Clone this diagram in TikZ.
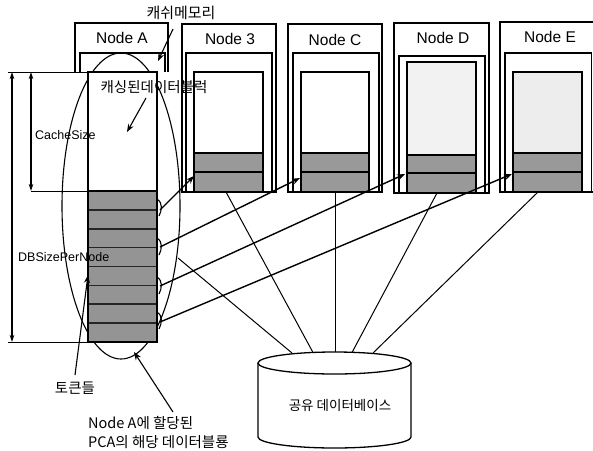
\documentclass[tikz,border=0pt]{standalone}
\usepackage{fontspec}
\setmainfont{Liberation Sans}
\newfontfamily\kr{Noto Sans CJK KR}
\usetikzlibrary{arrows.meta}
\begin{document}
\begin{tikzpicture}[x=1pt,y=-1pt,
  box/.style={draw=black,line width=1.4pt},
  lbl/.style={font=\fontsize{15.5}{18}\selectfont,inner sep=0pt},
  small/.style={font=\fontsize{12.5}{14}\selectfont,inner sep=0pt},
  krl/.style={font=\kr\fontsize{14.5}{19}\selectfont,inner sep=0pt},
  arr/.style={-{Stealth[length=8pt,width=6pt]},line width=1.4pt},
  dim/.style={{Stealth[length=7pt,width=4.5pt]}-{Stealth[length=7pt,width=4.5pt]},line width=1.1pt},
  dbline/.style={line width=1pt}]
\useasboundingbox (0,0) rectangle (593,450);
\fill[white] (0,0) rectangle (593,450);

% ---- Node A ----
\draw[box] (75,72) -- (75,23) -- (168,23) -- (168,72);
\draw[box] (80,72) -- (80,53) -- (165,53) -- (165,72);
\node[lbl] (labA) at (122,38) {Node A};
\draw[line width=1.1pt] (121,206) ellipse[x radius=59pt,y radius=153pt];
\coordinate (ellR) at (178,258);
\draw[box,fill=white] (88,72) rectangle (157,191);
\fill[black!42] (88,191) rectangle (157,342);
\foreach \i in {1,...,7} \draw[line width=1.6pt,black!85] (88,191+18.875*\i) -- (157,191+18.875*\i);
\draw[box] (88,191) rectangle (157,342);

% ---- Nodes B..E ----
\foreach \oL/\oR/\oT/\iL/\iR/\iT/\cL/\cR/\cT/\gT/\dv/\bt/\lx/\ly/\txt/\uf/\nm in {
  182/276/24/186/272/53/194/263/72/153/172/192/230/39/Node 3/white/B,
  288/382/24/293/379/53/301/369/72/153/172/192/335/40/Node C/white/C,
  394/489/23/399/485/56/407/476/62/155/173/193/443/38/Node D/black!5/D,
  500/597/22/505/591.5/53/513/582/72/153/172/192/550/37/Node E/black!7/E}{
  \draw[box,fill=white] (\oL,\bt) -- (\oL,\oT) -- (\oR,\oT) -- (\oR,\bt) -- cycle;
  \draw[box] (\iL,\bt) -- (\iL,\iT) -- (\iR,\iT) -- (\iR,\bt);
  \draw[box,fill=\uf] (\cL,\cT) rectangle (\cR,\gT);
  \fill[black!40] (\cL,\gT) rectangle (\cR,\bt);
  \draw[box] (\cL,\gT) rectangle (\cR,\bt);
  \draw[line width=2.4pt] (\cL,\dv) -- (\cR,\dv);
  \node[lbl] (lab\nm) at (\lx,\ly) {\txt};
}

% connector end points
\coordinate (tB) at (194,176);
\coordinate (tC) at (300,178);
\coordinate (tD) at (405,174);
\coordinate (tE) at (512,174);
\coordinate (bB) at (226,192);
\coordinate (bC) at (335,192);
\coordinate (bD) at (437,193);
\coordinate (bE) at (538,192);

% ---- shared database ----
\coordinate (db1) at (292,353);
\coordinate (db2) at (313,352.5);
\coordinate (db3) at (335,352);
\coordinate (db4) at (352,352.5);
\coordinate (db5) at (373,353);
\draw[dbline] (ellR) -- (db1);
\draw[dbline] (bB) -- (db2);
\draw[dbline] (bC) -- (db3);
\draw[dbline] (bD) -- (db4);
\draw[dbline] (bE) -- (db5);
\draw[line width=1.3pt,fill=white] (258,363) -- (258,437) arc[start angle=180,end angle=360,x radius=76.5pt,y radius=11pt] -- (411,363);
\draw[line width=1.3pt,fill=white] (334.5,363) ellipse[x radius=76.5pt,y radius=11pt];
\node[krl,font=\kr\fontsize{13.5}{16}\selectfont] (db) at (340,405) {공유 데이터베이스};

% ---- brackets and arrows from Node A ----
\foreach \ya/\yb in {199/216,238/255,277/294,312/329}{
  \draw[line width=1.1pt] (157,\ya) .. controls (163,\ya+4) and (162,\yb-6) .. (159,\yb);
}
\coordinate (s1) at (160,210);
\coordinate (s2) at (160,247);
\coordinate (s3) at (160,286);
\coordinate (s4) at (160,322);
\draw[arr] (s1) -- (tB);
\draw[arr] (s2) -- (tC);
\draw[arr] (s3) -- (tD);
\draw[arr] (s4) -- (tE);

% ---- dimensions ----
\draw[line width=1pt] (8,72) -- (88,72);
\draw[line width=1pt] (8,342) -- (88,342);
\draw[line width=1pt] (31,191) -- (88,191);
\coordinate (d1t) at (12,72);
\coordinate (d1b) at (12,342);
\coordinate (d2t) at (31,72);
\coordinate (d2b) at (31,191);
\draw[dim] (d1t) -- (d1b);
\draw[dim] (d2t) -- (d2b);
\node[small,anchor=west] (cs) at (35,135) {CacheSize};
\node[small,anchor=west] (dbs) at (18,257) {DBSizePerNode};

% ---- labels with arrows ----
\node[krl,font=\kr\fontsize{15}{18}\selectfont] (cm) at (181,13) {캐쉬메모리};
\coordinate (cmS) at (173,29);
\coordinate (cmT) at (158,61);
\draw[arr,line width=1.1pt] (cmS) -- (cmT);

\node[krl] (cb) at (154,87) {캐싱된데이터블럭};
\coordinate (cbS) at (146,98);
\coordinate (cbT) at (127,132);
\draw[arr,line width=1.1pt] (cbS) -- (cbT);

\node[krl] (tok) at (75,388) {토큰들};
\coordinate (tokS) at (75,375);
\coordinate (tokT) at (88,275);
\draw[arr,line width=1.1pt] (tokS) -- (tokT);

\node[krl,anchor=west,align=left] (pca) at (88,432.5) {Node A에 할당된\\PCA의 해당 데이터블룡};
\coordinate (pcaS) at (173,412);
\coordinate (pcaT) at (134,352);
\draw[arr,line width=1.1pt] (pcaS) -- (pcaT);
\end{tikzpicture}
\end{document}
